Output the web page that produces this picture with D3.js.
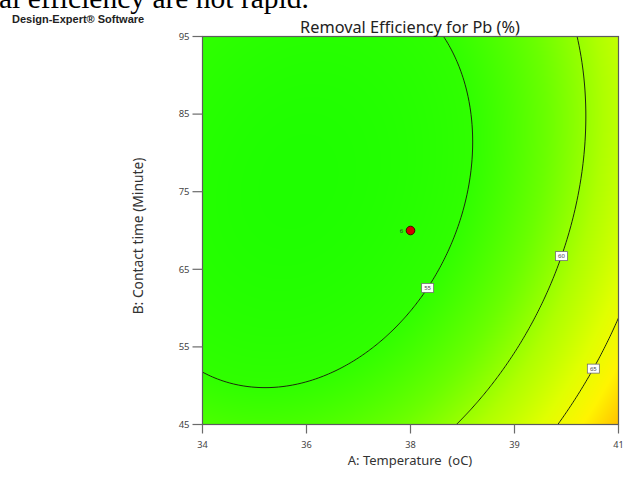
<!DOCTYPE html>
<html>
<head>
<meta charset="utf-8">
<script src="https://cdn.jsdelivr.net/npm/d3@7"></script>
<style>
  body { margin: 0; background: #fff; }
  svg { display: block; }
</style>
</head>
<body>
<svg id="chart" width="624" height="479"></svg>
<script>
// Factor ranges in actual units
const tempRange = [34, 41];      // A: Temperature (oC)
const timeRange = [45, 95];      // B: Contact time (Minute)

// Quadratic response model in coded factors: [intercept, A, B, AB, A^2, B^2]
const modelCoefs = [53.69, 4.96, -2.05, -1.30, 4.30, 2.67];

// Contour levels and the contact time at which each level is labelled
const contourLevels = [55, 60, 65];
const contourLabelTime = [62.6, 66.7, 52.2];

// Axis ticks
const xTickValues = [34, 35.75, 37.5, 39.25, 41];
const xTickLabels = ["34", "36", "38", "39", "41"];
const yTickValues = [45, 55, 65, 75, 85, 95];
const yTickLabels = ["45", "55", "65", "75", "85", "95"];

// Design point (centre point with replicate count)
const designTemp = [37.5];
const designTime = [70];
const designReps = ["6"];

// Colour ramp for the response
const colorValues = [52, 55, 58, 61, 64, 66.5, 69];
const colorHex = ["#1eff00", "#30ff00", "#6aff00", "#aeff00", "#e0ff00", "#fff400", "#ffc000"];

const svg = d3.select("#chart");
const plot = { left: 202.5, right: 618.5, top: 36.5, bottom: 424.5 };

const x = d3.scaleLinear().domain(tempRange).range([plot.left, plot.right]);
const y = d3.scaleLinear().domain(timeRange).range([plot.bottom, plot.top]);
const color = d3.scaleLinear().domain(colorValues).range(colorHex)
  .interpolate(d3.interpolateRgb).clamp(true);

const aMid = (tempRange[0] + tempRange[1]) / 2, aHalf = (tempRange[1] - tempRange[0]) / 2;
const bMid = (timeRange[0] + timeRange[1]) / 2, bHalf = (timeRange[1] - timeRange[0]) / 2;

function predict(A, B) {
  const a = (A - aMid) / aHalf, b = (B - bMid) / bHalf;
  const [c0, cA, cB, cAB, cAA, cBB] = modelCoefs;
  return c0 + cA * a + cB * b + cAB * a * b + cAA * a * a + cBB * b * b;
}

// Clipped plot region
svg.append("defs").append("clipPath").attr("id", "plotClip")
  .append("rect")
  .attr("x", plot.left).attr("y", plot.top)
  .attr("width", plot.right - plot.left).attr("height", plot.bottom - plot.top);

// Colour-filled response surface rendered pixel by pixel
const px0 = Math.floor(plot.left), py0 = Math.floor(plot.top);
const pw = Math.ceil(plot.right) - px0 + 1, ph = Math.ceil(plot.bottom) - py0 + 1;
const canvas = document.createElement("canvas");
canvas.width = pw; canvas.height = ph;
const ctx = canvas.getContext("2d");
const img = ctx.createImageData(pw, ph);
for (let j = 0; j < ph; j++) {
  const B = y.invert(py0 + j + 0.5);
  for (let i = 0; i < pw; i++) {
    const A = x.invert(px0 + i + 0.5);
    const c = d3.rgb(color(predict(A, B)));
    const k = (j * pw + i) * 4;
    img.data[k] = c.r; img.data[k + 1] = c.g; img.data[k + 2] = c.b; img.data[k + 3] = 255;
  }
}
ctx.putImageData(img, 0, 0);

const plotG = svg.append("g").attr("clip-path", "url(#plotClip)");
plotG.append("image")
  .attr("x", px0).attr("y", py0).attr("width", pw).attr("height", ph)
  .attr("preserveAspectRatio", "none")
  .attr("href", canvas.toDataURL());

// Contour lines from a grid extending past the plot edges
const gx0 = plot.left - 60, gy0 = plot.top - 60;
const nx = Math.ceil(plot.right - plot.left) + 120, ny = Math.ceil(plot.bottom - plot.top) + 120;
const grid = new Float64Array(nx * ny);
for (let j = 0; j < ny; j++) {
  const B = y.invert(gy0 + j + 0.5);
  for (let i = 0; i < nx; i++) {
    grid[j * nx + i] = predict(x.invert(gx0 + i + 0.5), B);
  }
}
const contours = d3.contours().size([nx, ny]).thresholds(contourLevels)(grid);
const path = d3.geoPath(d3.geoIdentity().translate([gx0, gy0]));
plotG.selectAll("path.contour")
  .data(contours)
  .join("path")
  .attr("class", "contour")
  .attr("d", path)
  .attr("fill", "none")
  .attr("stroke", "#1c2a0c")
  .attr("stroke-width", 1);

// Contour labels placed where each level crosses its label time
function solveTemp(level, B) {
  let lo = aMid, hi = tempRange[1];
  for (let k = 0; k < 60; k++) {
    const mid = (lo + hi) / 2;
    if (predict(mid, B) < level) lo = mid; else hi = mid;
  }
  return (lo + hi) / 2;
}
const labelData = contourLevels.map((lv, i) => ({
  level: lv, A: solveTemp(lv, contourLabelTime[i]), B: contourLabelTime[i]
}));
const labelG = svg.append("g").selectAll("g").data(labelData).join("g")
  .attr("transform", d => `translate(${x(d.A)},${y(d.B)})`);
labelG.append("rect")
  .attr("x", -6).attr("y", -4.5).attr("width", 12).attr("height", 9)
  .attr("fill", "#fff").attr("stroke", "#707070").attr("stroke-width", 0.8);
labelG.append("text")
  .attr("text-anchor", "middle").attr("y", 2.2)
  .attr("font-family", "Noto Sans, sans-serif").attr("font-size", 6)
  .attr("fill", "#444")
  .text(d => d.level);

// Design point
const ptG = svg.append("g").selectAll("g").data(designTemp.map((t, i) => ({
  A: t, B: designTime[i], reps: designReps[i]
}))).join("g");
ptG.append("circle")
  .attr("cx", d => x(d.A)).attr("cy", d => y(d.B)).attr("r", 4.3)
  .attr("fill", "#d40000").attr("stroke", "#3a0000").attr("stroke-width", 0.9);
ptG.append("text")
  .attr("x", d => x(d.A) - 9).attr("y", d => y(d.B) + 2.2)
  .attr("text-anchor", "middle")
  .attr("font-family", "Noto Sans, sans-serif").attr("font-size", 6)
  .attr("fill", "#333")
  .text(d => d.reps);

// Plot frame
svg.append("rect")
  .attr("x", plot.left).attr("y", plot.top)
  .attr("width", plot.right - plot.left).attr("height", plot.bottom - plot.top)
  .attr("fill", "none").attr("stroke", "#5c5c5c").attr("stroke-width", 1.2);

const uiFont = "Noto Sans, Open Sans, sans-serif";

// X axis
const xAxis = svg.append("g");
xAxis.selectAll("line").data(xTickValues).join("line")
  .attr("x1", d => x(d)).attr("x2", d => x(d))
  .attr("y1", plot.bottom).attr("y2", plot.bottom + 9)
  .attr("stroke", "#6a6a6a").attr("stroke-width", 1.2);
xAxis.selectAll("text").data(xTickValues).join("text")
  .attr("x", d => x(d)).attr("y", plot.bottom + 23)
  .attr("text-anchor", "middle")
  .attr("font-family", uiFont).attr("font-size", 9.2).attr("fill", "#444")
  .text((d, i) => xTickLabels[i]);

// Y axis
const yAxis = svg.append("g");
yAxis.selectAll("line").data(yTickValues).join("line")
  .attr("x1", plot.left - 10).attr("x2", plot.left)
  .attr("y1", d => y(d)).attr("y2", d => y(d))
  .attr("stroke", "#6a6a6a").attr("stroke-width", 1.2);
yAxis.selectAll("text").data(yTickValues).join("text")
  .attr("x", plot.left - 13).attr("y", d => y(d) + 3.3)
  .attr("text-anchor", "end")
  .attr("font-family", uiFont).attr("font-size", 9.5).attr("fill", "#444")
  .text((d, i) => yTickLabels[i]);

// Axis titles
svg.append("text")
  .attr("x", 410).attr("y", 464.5)
  .attr("text-anchor", "middle")
  .attr("font-family", uiFont).attr("font-size", 13).attr("fill", "#333")
  .style("white-space", "pre")
  .text("A: Temperature  (oC)");
svg.append("text")
  .attr("transform", "translate(143,236) rotate(-90)")
  .attr("text-anchor", "middle")
  .attr("font-family", uiFont).attr("font-size", 13.8).attr("fill", "#333")
  .text("B: Contact time (Minute)");

// Chart title
svg.append("text")
  .attr("x", 410).attr("y", 33)
  .attr("text-anchor", "middle")
  .attr("font-family", uiFont).attr("font-size", 16.3).attr("fill", "#222")
  .text("Removal Efficiency for Pb (%)");

// Software caption
svg.append("text")
  .attr("x", 12).attr("y", 23)
  .attr("font-family", "Liberation Sans, Arial, sans-serif").attr("font-weight", "bold")
  .attr("font-size", 11).attr("fill", "#222")
  .text("Design-Expert® Software");

// Running text of the page above the figure
svg.append("text")
  .attr("x", -1).attr("y", 8)
  .attr("font-family", "Liberation Serif, Times New Roman, serif")
  .attr("font-size", 29.5).attr("fill", "#000")
  .text("al efficiency are not rapid.");
</script>
</body>
</html>
